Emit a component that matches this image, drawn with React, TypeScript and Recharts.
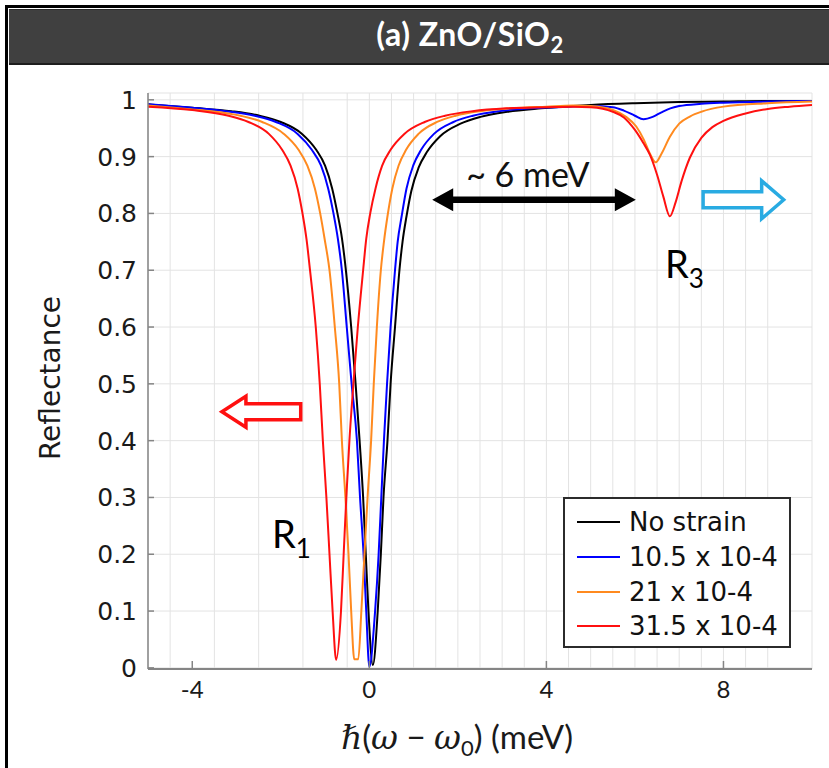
import React from 'react';
import { LineChart, Line, XAxis, YAxis, CartesianGrid, Legend } from 'recharts';

// reflectance spectra, [ħ(ω−ω0) in meV, R]
const noStrainPoints: [number, number][] = [
  [-5, 0.992], [-4, 0.986], [-3.12, 0.98], [-2.48, 0.972], [-2.0, 0.961], [-1.52, 0.94], [-1.2, 0.912],
  [-1.0, 0.884], [-0.84, 0.844], [-0.72, 0.8], [-0.62, 0.757], [-0.53, 0.7], [-0.41, 0.6], [-0.31, 0.5],
  [-0.22, 0.4], [-0.14, 0.3], [-0.08, 0.2], [-0.02, 0.1], [0.08, 0.005], [0.19, 0.1], [0.26, 0.2],
  [0.32, 0.3], [0.41, 0.4], [0.48, 0.5], [0.58, 0.6], [0.68, 0.7], [0.75, 0.75], [0.84, 0.795],
  [0.95, 0.84], [1.11, 0.88], [1.3, 0.908], [1.6, 0.936], [2.06, 0.958], [2.51, 0.97], [3.12, 0.979],
  [3.88, 0.985], [5.0, 0.991], [6.0, 0.994], [7.0, 0.996], [8.0, 0.997], [9.0, 0.998], [10, 0.998],
];

const strain105Points: [number, number][] = [
  [-5, 0.992], [-4, 0.986], [-3.24, 0.98], [-2.59, 0.972], [-2.11, 0.961], [-1.62, 0.94], [-1.3, 0.912],
  [-1.09, 0.884], [-0.93, 0.844], [-0.81, 0.8], [-0.71, 0.755], [-0.62, 0.7], [-0.51, 0.6], [-0.4, 0.5],
  [-0.28, 0.4], [-0.21, 0.3], [-0.13, 0.2], [-0.07, 0.1], [0.0, 0.002], [0.13, 0.1], [0.21, 0.2],
  [0.27, 0.3], [0.33, 0.4], [0.4, 0.5], [0.48, 0.6], [0.58, 0.7], [0.64, 0.75], [0.73, 0.795],
  [0.84, 0.844], [0.99, 0.884], [1.17, 0.912], [1.46, 0.94], [1.9, 0.961], [2.34, 0.972], [2.92, 0.98],
  [3.65, 0.985], [4.5, 0.988], [5.0, 0.989], [5.5, 0.987], [5.75, 0.981], [6.0, 0.972], [6.19, 0.966],
  [6.4, 0.97], [6.6, 0.978], [6.8, 0.985], [7.0, 0.989], [7.5, 0.993], [8.0, 0.995], [9.0, 0.997],
  [10, 0.998],
];

const strain21Points: [number, number][] = [
  [-5, 0.99], [-4, 0.983], [-3.57, 0.98], [-2.91, 0.972], [-2.42, 0.961], [-1.93, 0.94], [-1.6, 0.912],
  [-1.4, 0.884], [-1.23, 0.844], [-1.11, 0.8], [-1.01, 0.755], [-0.9, 0.7], [-0.78, 0.6], [-0.68, 0.5],
  [-0.62, 0.4], [-0.54, 0.3], [-0.47, 0.2], [-0.41, 0.1], [-0.34, 0.015], [-0.25, 0.015], [-0.18, 0.1],
  [-0.11, 0.2], [-0.04, 0.3], [0.04, 0.4], [0.1, 0.5], [0.17, 0.6], [0.26, 0.7], [0.33, 0.75],
  [0.41, 0.795], [0.52, 0.844], [0.66, 0.884], [0.83, 0.912], [1.11, 0.94], [1.53, 0.961], [1.95, 0.972],
  [2.51, 0.98], [3.21, 0.985], [4.0, 0.988], [4.6, 0.99], [5.0, 0.989], [5.5, 0.982], [5.8, 0.97],
  [6.03, 0.953], [6.2, 0.93], [6.34, 0.905], [6.47, 0.89], [6.6, 0.905], [6.79, 0.935], [7.0, 0.958],
  [7.25, 0.971], [7.5, 0.979], [8.0, 0.988], [9.0, 0.994], [10, 0.997],
];

const strain315Points: [number, number][] = [
  [-5, 0.988], [-4, 0.982], [-3.18, 0.972], [-2.73, 0.961], [-2.27, 0.94], [-1.97, 0.912], [-1.78, 0.884],
  [-1.62, 0.844], [-1.51, 0.8], [-1.42, 0.755], [-1.34, 0.7], [-1.21, 0.6], [-1.12, 0.5], [-1.05, 0.4],
  [-0.97, 0.3], [-0.9, 0.2], [-0.83, 0.1], [-0.75, 0.014], [-0.64, 0.1], [-0.58, 0.2], [-0.52, 0.3],
  [-0.45, 0.4], [-0.36, 0.5], [-0.26, 0.6], [-0.14, 0.7], [-0.07, 0.755], [0.02, 0.8], [0.14, 0.844],
  [0.29, 0.884], [0.48, 0.912], [0.79, 0.94], [1.25, 0.961], [1.71, 0.972], [2.33, 0.98], [3.1, 0.985],
  [4.0, 0.987], [4.6, 0.988], [5.0, 0.987], [5.5, 0.979], [5.75, 0.969], [6.0, 0.947], [6.19, 0.924],
  [6.34, 0.903], [6.5, 0.868], [6.64, 0.83], [6.79, 0.795], [6.92, 0.82], [7.05, 0.856], [7.24, 0.898],
  [7.5, 0.933], [7.75, 0.952], [8.0, 0.963], [8.5, 0.976], [9.0, 0.984], [9.5, 0.988], [10, 0.991],
];

const seriesNames = ['No strain', '10.5 x 10-4', '21 x 10-4', '31.5 x 10-4'];
const seriesColors = ['#000000', '#0000ff', '#ff8a1f', '#ff1010'];
const seriesPoints = [noStrainPoints, strain105Points, strain21Points, strain315Points];

const xMajorTicks = [-4, 0, 4, 8];
const xMinorTicks = [-5, -4.5, -4, -3.5, -3, -2.5, -2, -1.5, -1, -0.5, 0, 0.5, 1, 1.5, 2, 2.5, 3, 3.5, 4, 4.5, 5, 5.5, 6, 6.5, 7, 7.5, 8, 8.5, 9, 9.5, 10];
const yTicks = [0, 0.1, 0.2, 0.3, 0.4, 0.5, 0.6, 0.7, 0.8, 0.9, 1];

const X_DOMAIN: [number, number] = [-5, 10];
const Y_DOMAIN: [number, number] = [-0.002, 1.012];

const W = 829;
const H = 768;
const PLOT = { left: 148, top: 93, right: 812, bottom: 669 };
const Y_AXIS_W = 60;
const X_AXIS_H = 40;

const AXIS = '#858585';
const GRID = '#e3e3e3';
const SANS = '"DejaVu Sans", sans-serif';
const CAL = 'Lato, "Open Sans", sans-serif';

// data -> pixel, used only for the annotation layer
const px = (x: number) => PLOT.left + ((x - X_DOMAIN[0]) / (X_DOMAIN[1] - X_DOMAIN[0])) * (PLOT.right - PLOT.left);
const py = (y: number) => PLOT.bottom - ((y - Y_DOMAIN[0]) / (Y_DOMAIN[1] - Y_DOMAIN[0])) * (PLOT.bottom - PLOT.top);

const fmtY = (v: number) => String(Math.round(v * 10) / 10);

const XTickBottom = ({ x, y, payload }: any) => (
  <g>
    <line x1={x} x2={x} y1={y} y2={y - 8} stroke={AXIS} strokeWidth={1.5} />
    <text x={x} y={y + 29} textAnchor="middle" fontFamily={CAL} fontSize={24} fill="#1a1a1a">
      {payload.value}
    </text>
  </g>
);

const XTickTop = ({ x, y }: any) => <line x1={x} x2={x} y1={y} y2={y + 8} stroke={AXIS} strokeWidth={1.5} />;

const YTickLeft = ({ x, y, payload }: any) => (
  <g>
    <line x1={x} x2={x + 6} y1={y} y2={y} stroke={AXIS} strokeWidth={1.5} />
    <text x={x - 11} y={y} dy="0.36em" textAnchor="end" fontFamily={SANS} fontSize={25} fill="#1a1a1a">
      {fmtY(payload.value)}
    </text>
  </g>
);

const YTickRight = ({ x, y }: any) => <line x1={x} x2={x - 6} y1={y} y2={y} stroke={AXIS} strokeWidth={1.5} />;

const LegendBox = ({ payload }: any) => {
  const items = [...(payload || [])].sort((a: any, b: any) => seriesNames.indexOf(a.value) - seriesNames.indexOf(b.value));
  return (
    <div
      style={{
        width: 228,
        height: 151,
        boxSizing: 'border-box',
        border: '2px solid #2b2b2b',
        background: '#fff',
        padding: '6px 0 0 12px',
        fontFamily: SANS,
        fontSize: 26,
        color: '#111',
      }}
    >
      {items.map((p: any) => (
        <div key={p.value} style={{ display: 'flex', alignItems: 'center', height: 34.7, whiteSpace: 'nowrap' }}>
          <span style={{ display: 'inline-block', width: 43, height: 2, background: p.color, marginRight: 9 }} />
          {p.value}
        </div>
      ))}
    </div>
  );
};

// hollow block arrow from xa to the tip at xb
const hollowArrow = (xa: number, xb: number, y: number, head: number, headHalf: number, shaftHalf: number) => {
  const dir = xb > xa ? 1 : -1;
  const base = xb - dir * head;
  return [
    [xa, y - shaftHalf], [base, y - shaftHalf], [base, y - headHalf], [xb, y],
    [base, y + headHalf], [base, y + shaftHalf], [xa, y + shaftHalf],
  ].map((p) => p.join(',')).join(' ');
};

const Annotations = () => {
  const ay = py(0.824);
  const ax1 = px(1.42);
  const ax2 = px(6.02);
  const head = 21;
  const hh = 11.5;
  const sh = 3.2;
  const dbl = [
    [ax1, ay], [ax1 + head, ay - hh], [ax1 + head, ay - sh], [ax2 - head, ay - sh], [ax2 - head, ay - hh],
    [ax2, ay], [ax2 - head, ay + hh], [ax2 - head, ay + sh], [ax1 + head, ay + sh], [ax1 + head, ay + hh],
  ].map((p) => p.join(',')).join(' ');
  const serif = '"DejaVu Serif", serif';

  return (
    <svg width={W} height={H} style={{ position: 'absolute', left: 0, top: 0, pointerEvents: 'none' }}>
      <text transform={`translate(50,${(PLOT.top + PLOT.bottom) / 2 - 3}) rotate(-90)`} textAnchor="middle" dy="0.35em" fontFamily={SANS} fontSize={28} fill="#1a1a1a">
        Reflectance
      </text>
      <text x={457} y={749} textAnchor="middle" fontSize={33} fill="#1a1a1a" fontFamily={CAL}>
        <tspan fontFamily={serif} fontStyle="italic">ℏ</tspan>
        <tspan>(</tspan>
        <tspan fontFamily={serif} fontStyle="italic">ω</tspan>
        <tspan> − </tspan>
        <tspan fontFamily={serif} fontStyle="italic">ω</tspan>
        <tspan fontSize={22} dy={7}>0</tspan>
        <tspan dy={-7}>) (meV)</tspan>
      </text>

      <text x={px(3.58)} y={py(0.847)} textAnchor="middle" fontFamily={CAL} fontSize={34} fill="#111">~ 6 meV</text>
      <polygon points={dbl} fill="#000" />

      <polygon points={hollowArrow(px(-1.55), px(-3.33), py(0.451), 24, 15.5, 8)} fill="#fff" stroke="#ff1010" strokeWidth={3.5} />
      <polygon points={hollowArrow(px(7.54), px(9.36), py(0.824), 22, 19, 8)} fill="#fff" stroke="#29abe2" strokeWidth={3.5} />

      <text x={px(-2.2)} y={py(0.211)} fontFamily={CAL} fontSize={38} fill="#000">
        R<tspan fontSize={26} dy={10}>1</tspan>
      </text>
      <text x={px(6.68)} y={py(0.687)} fontFamily={CAL} fontSize={38} fill="#000">
        R<tspan fontSize={26} dy={10}>3</tspan>
      </text>
    </svg>
  );
};

export default function App() {
  return (
    <div style={{ position: 'relative', width: W, height: H, background: '#fff', overflow: 'hidden' }}>
      <style>{'body{margin:0}'}</style>

      {/* panel frame and title bar */}
      <div style={{ position: 'absolute', left: 5, top: 5, width: W, height: 3, background: '#000' }} />
      <div style={{ position: 'absolute', left: 5, top: 5, width: 3, height: H, background: '#000' }} />
      <div
        style={{
          position: 'absolute', left: 9, top: 9, width: W, height: 56, boxSizing: 'border-box',
          background: '#404040', borderTop: '1px solid #2a2a2a', borderBottom: '2px solid #1e1e1e',
        }}
      />
      <div
        style={{
          position: 'absolute', left: 0, top: 8, width: 940, height: 56, display: 'flex',
          alignItems: 'center', justifyContent: 'center', color: '#fff', fontFamily: CAL,
          fontWeight: 700, fontSize: 32, letterSpacing: 0.5,
        }}
      >
        <span>
          (a) ZnO/SiO<sub style={{ fontSize: 22, verticalAlign: -7 }}>2</sub>
        </span>
      </div>

      <div style={{ position: 'absolute', left: 0, top: 0 }}>
        <LineChart
          width={W}
          height={H}
          margin={{
            top: PLOT.top,
            right: W - PLOT.right,
            bottom: H - PLOT.bottom - X_AXIS_H,
            left: PLOT.left - Y_AXIS_W,
          }}
        >
          <CartesianGrid xAxisId="minor" stroke={GRID} strokeWidth={1} />
          <XAxis xAxisId="minor" type="number" dataKey="x" domain={X_DOMAIN} ticks={xMinorTicks} allowDataOverflow hide />
          <XAxis
            type="number"
            dataKey="x"
            domain={X_DOMAIN}
            ticks={xMajorTicks}
            allowDataOverflow
            height={X_AXIS_H}
            tickLine={false}
            tickSize={0}
            tickMargin={0}
            tick={<XTickBottom />}
            axisLine={{ stroke: AXIS, strokeWidth: 2 }}
          />
          <XAxis
            xAxisId="top"
            orientation="top"
            type="number"
            dataKey="x"
            domain={X_DOMAIN}
            ticks={xMajorTicks}
            allowDataOverflow
            height={0}
            tickLine={false}
            tickSize={0}
            tickMargin={0}
            tick={<XTickTop />}
            axisLine={{ stroke: AXIS, strokeWidth: 1.5 }}
          />
          <YAxis
            type="number"
            domain={Y_DOMAIN}
            ticks={yTicks}
            allowDataOverflow
            width={Y_AXIS_W}
            tickLine={false}
            tickSize={0}
            tickMargin={0}
            tick={<YTickLeft />}
            axisLine={{ stroke: AXIS, strokeWidth: 1.5 }}
          />
          <YAxis
            yAxisId="right"
            orientation="right"
            type="number"
            domain={Y_DOMAIN}
            ticks={yTicks}
            allowDataOverflow
            width={0}
            tickLine={false}
            tickSize={0}
            tickMargin={0}
            tick={<YTickRight />}
            axisLine={{ stroke: AXIS, strokeWidth: 1.5 }}
          />
          {seriesPoints.map((pts, i) => (
            <Line
              key={seriesNames[i]}
              name={seriesNames[i]}
              data={pts.map(([x, r]) => ({ x, r }))}
              dataKey="r"
              type="monotone"
              stroke={seriesColors[i]}
              strokeWidth={2}
              dot={false}
              activeDot={false}
              isAnimationActive={false}
            />
          ))}
          <Legend
            layout="vertical"
            align="center"
            verticalAlign="middle"
            content={<LegendBox />}
            wrapperStyle={{ left: 563, top: 497, width: 228, height: 151 }}
          />
        </LineChart>
      </div>

      <Annotations />
    </div>
  );
}
